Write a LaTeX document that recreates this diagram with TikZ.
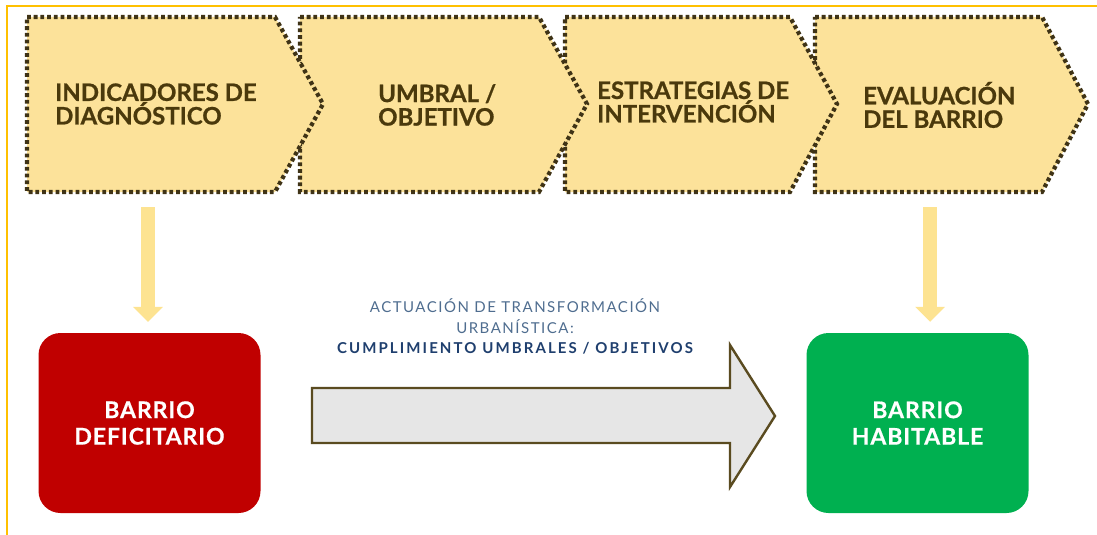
\documentclass[tikz,border=0pt]{standalone}
\usepackage{fontspec}
\setmainfont{Lato}
\usetikzlibrary{arrows.meta}

\definecolor{chevfill}{HTML}{FCE29A}
\definecolor{chevline}{HTML}{3F3316}
\definecolor{chevtext}{HTML}{4A390C}
\definecolor{downarrow}{HTML}{FDE391}
\definecolor{deficit}{HTML}{C00000}
\definecolor{habitable}{HTML}{00B050}
\definecolor{bigarrow}{HTML}{E6E6E6}
\definecolor{bigline}{HTML}{5A4B20}
\definecolor{frameline}{HTML}{FFC000}
\definecolor{actlight}{HTML}{4F6D8F}
\definecolor{actdark}{HTML}{1F3F6E}

\tikzset{
  chevron/.style={fill=chevfill, draw=chevline, line width=4.2pt, line cap=butt,
    line join=miter, dash pattern=on 3.8pt off 2.9pt},
  chevlabel/.style={anchor=west, align=left, inner sep=0pt, text=chevtext,
    font=\fontsize{24}{23.5}\selectfont\bfseries\addfontfeature{FakeBold=0.8}},
  barrio/.style={rounded corners=22pt, minimum width=222pt, minimum height=180pt,
    inner sep=0pt, align=center, text=white,
    font=\fontsize{23}{26.5}\selectfont\bfseries\addfontfeature{LetterSpace=4,FakeBold=0.6}},
  yarrow/.style={draw=downarrow, line width=14pt,
    -{Triangle[width=29pt,length=15pt]}, shorten >=11pt},
  actlabel/.style={anchor=base, inner sep=0pt},
}

\begin{document}
\begin{tikzpicture}[x=1pt, y=-1pt]
    \useasboundingbox (0,0) rectangle (1097,535);
    \draw[frameline, line width=2pt] (1097,6) -- (7,6) -- (7,535);

    % chevrons, last one first so that each tip lies on the next one
    \draw[chevron] (815,17) -- (1042,17) -- (1088,104) -- (1042,192) -- (815,192) -- cycle;
    \draw[chevron] (565,17) -- (790,17) -- (837,104) -- (790,192) -- (565,192) -- cycle;
    \draw[chevron] (300,17) -- (539,17) -- (587,104) -- (539,192) -- (300,192) -- cycle;
    \draw[chevron] (27,17) -- (275,17) -- (323,104) -- (275,192) -- (27,192) -- cycle;

    \node[chevlabel] (diag) at (55,104) {INDICADORES DE\\DIAGNÓSTICO};
    \node[chevlabel] (umbral) at (378,105) {UMBRAL /\\OBJETIVO};
    \node[chevlabel] (estrat) at (597,102) {ESTRATEGIAS DE\\INTERVENCIÓN};
    \node[chevlabel] (evalua) at (863,105) {EVALUACIÓN\\DEL BARRIO};

    \node[barrio, fill=deficit] (deficit) at (149.5,423) {BARRIO\\DEFICITARIO};
    \node[barrio, fill=habitable] (habit) at (917.5,423) {BARRIO\\HABITABLE};

    \coordinate (down1) at (148,207);
    \coordinate (down4) at (930,207);
    \draw[yarrow] (down1) -- (down1 |- deficit.north);
    \draw[yarrow] (down4) -- (down4 |- habit.north);

    \draw[fill=bigarrow, draw=bigline, line width=2.4pt]
        (312,388) -- (730,388) -- (730,345) -- (775,416) -- (730,487) -- (730,443) -- (312,443) -- cycle;

    \node[actlabel, text=actlight, font=\fontsize{15}{18}\selectfont\addfontfeature{LetterSpace=10}]
        (act1) at (515,312) {ACTUACIÓN DE TRANSFORMACIÓN};
    \node[actlabel, text=actlight, font=\fontsize{15}{18}\selectfont\addfontfeature{LetterSpace=10}]
        (act2) at (515,333) {URBANÍSTICA:};
    \node[actlabel, text=actdark, font=\fontsize{15}{18}\selectfont\bfseries\addfontfeature{LetterSpace=14}]
        (act3) at (515,353) {CUMPLIMIENTO UMBRALES / OBJETIVOS};
\end{tikzpicture}
\end{document}
